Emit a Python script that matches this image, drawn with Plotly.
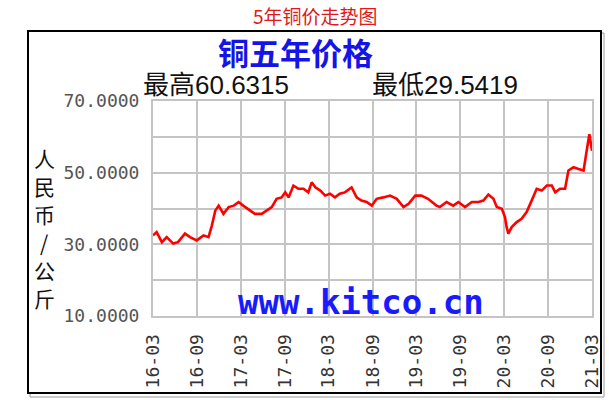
import plotly.graph_objects as go

# ---- data ----
dates = [
    "2016-03-01", "2016-03-16", "2016-04-07", "2016-04-27", "2016-05-24", "2016-06-13",
    "2016-07-12", "2016-08-02", "2016-08-30", "2016-09-27", "2016-10-18", "2016-11-01",
    "2016-11-15", "2016-11-29", "2016-12-19", "2017-01-10", "2017-01-31", "2017-02-20",
    "2017-03-11", "2017-04-01", "2017-04-29", "2017-05-27", "2017-06-17", "2017-07-08",
    "2017-07-28", "2017-08-18", "2017-09-02", "2017-09-16", "2017-10-06", "2017-10-27",
    "2017-11-17", "2017-12-07", "2017-12-21", "2018-01-05", "2018-01-26", "2018-02-15",
    "2018-03-07", "2018-03-28", "2018-04-17", "2018-05-08", "2018-06-05", "2018-06-26",
    "2018-07-16", "2018-08-07", "2018-08-28", "2018-09-17", "2018-10-15", "2018-11-12",
    "2018-12-10", "2019-01-07", "2019-01-28", "2019-02-25", "2019-03-22", "2019-04-19",
    "2019-05-24", "2019-06-07", "2019-07-05", "2019-08-02", "2019-08-23", "2019-09-20",
    "2019-10-18", "2019-11-15", "2019-12-05", "2019-12-26", "2020-01-16", "2020-01-30",
    "2020-02-20", "2020-03-04", "2020-03-11", "2020-03-18", "2020-04-01", "2020-04-22",
    "2020-05-12", "2020-06-02", "2020-06-23", "2020-07-14", "2020-08-04", "2020-08-25",
    "2020-09-15", "2020-09-29", "2020-10-19", "2020-11-09", "2020-11-23", "2020-12-14",
    "2021-01-04", "2021-01-25", "2021-02-08", "2021-02-18", "2021-03-01",
]
prices = [
    32.5, 33.4, 30.6, 32.0, 30.2, 30.6,
    33.0, 32.0, 31.1, 32.5, 32.0, 35.3,
    39.4, 40.8, 38.5, 40.4, 40.8, 41.8,
    40.8, 39.9, 38.5, 38.5, 39.4, 40.4,
    42.7, 43.1, 44.5, 43.1, 46.4, 45.5,
    45.5, 44.5, 47.3, 45.9, 45.0, 43.6,
    44.1, 43.1, 44.1, 44.5, 45.9, 43.1,
    42.2, 41.8, 40.8, 42.7, 43.1, 43.6,
    42.7, 40.4, 41.3, 43.6, 43.6, 42.7,
    40.8, 40.4, 41.8, 40.8, 41.8, 40.4,
    41.8, 41.8, 42.2, 43.9, 42.7, 40.4,
    39.9, 37.6, 34.8, 33.0, 34.8, 36.2,
    37.1, 39.0, 42.2, 45.5, 45.0, 46.4,
    46.4, 44.5, 45.5, 45.5, 50.6, 51.5,
    51.0, 50.6, 56.6, 60.7, 56.1,
]
x_tick_dates = ["2016-03-01", "2016-09-01", "2017-03-01", "2017-09-01", "2018-03-01",
                "2018-09-01", "2019-03-01", "2019-09-01", "2020-03-01", "2020-09-01",
                "2021-03-01"]
x_tick_labels = ["16-03", "16-09", "17-03", "17-09", "18-03", "18-09",
                 "19-03", "19-09", "20-03", "20-09", "21-03"]
y_tick_vals = [10, 20, 30, 40, 50, 60, 70]
y_tick_labels = ["10.0000", "", "30.0000", "", "50.0000", "", "70.0000"]

page_title = "5年铜价走势图"
chart_title = "铜五年价格"
high_text = "最高60.6315"
low_text = "最低29.5419"
y_title = "人民币/公斤"
watermark = "www.kitco.cn"

# ---- layout geometry (pixels) ----
W, H = 609, 400
L, R, T, B = 153, 592, 101, 316


def px(x):
    return (x - L) / (R - L)


def py(y):
    return (B - y) / (B - T)


fig = go.Figure()
fig.add_trace(go.Scatter(x=dates, y=prices, mode="lines",
                         line=dict(color="#ff0000", width=2.6), hoverinfo="x+y"))

grid = "#c4c4c4"
fig.update_layout(
    width=W, height=H,
    margin=dict(l=L, r=W - R, t=T, b=H - B, autoexpand=False),
    paper_bgcolor="white", plot_bgcolor="white",
    showlegend=False,
    xaxis=dict(type="date", range=["2016-03-01", "2021-03-01"],
               tickvals=x_tick_dates, ticktext=x_tick_labels, tickangle=-90,
               showgrid=True, gridcolor=grid, gridwidth=2,
               showline=True, linecolor=grid, linewidth=2, mirror=True,
               ticks="outside", ticklen=9, tickcolor="rgba(0,0,0,0)",
               tickfont=dict(family="DejaVu Sans Mono", size=18, color="#333333"),
               zeroline=False),
    yaxis=dict(range=[10, 70], tickvals=y_tick_vals, ticktext=y_tick_labels,
               showgrid=True, gridcolor=grid, gridwidth=2,
               showline=True, linecolor=grid, linewidth=2, mirror=True,
               ticks="outside", ticklen=8, tickcolor="rgba(0,0,0,0)",
               tickfont=dict(family="DejaVu Sans Mono", size=18, color="#555555"),
               zeroline=False),
)

# outer frame with light shadow
fig.add_shape(type="rect", xref="paper", yref="paper",
              x0=px(30), x1=px(604), y0=py(397), y1=py(33),
              line=dict(color="#9a9a9a", width=1), layer="below")
fig.add_shape(type="rect", xref="paper", yref="paper",
              x0=px(28), x1=px(601), y0=py(393), y1=py(31),
              line=dict(color="#000000", width=2), fillcolor="white", layer="below")

ann = []
ann.append(dict(text=page_title, x=px(315), y=py(15), xanchor="center", yanchor="middle",
                font=dict(family="Noto Sans CJK SC", size=19, color="#e01818")))
ann.append(dict(text="<b>" + chart_title + "</b>", x=px(295), y=py(51), xanchor="center",
                yanchor="middle",
                font=dict(family="Noto Sans CJK SC", size=31, color="#1414e6")))
ann.append(dict(text=high_text, x=px(142), y=py(85), xanchor="left", yanchor="middle",
                font=dict(family="Liberation Sans, Noto Sans CJK SC", size=26, color="#111111")))
ann.append(dict(text=low_text, x=px(371), y=py(85), xanchor="left", yanchor="middle",
                font=dict(family="Liberation Sans, Noto Sans CJK SC", size=26, color="#111111")))
# vertical axis title, one character per line
for i, ch in enumerate(y_title):
    ann.append(dict(text=ch, x=px(44), y=py(158 + 28 * i), xanchor="center",
                    yanchor="middle",
                    font=dict(family="Noto Sans CJK SC", size=21, color="#111111")))
ann.append(dict(text="<b>" + watermark + "</b>", x=px(361), y=py(302), xanchor="center",
                yanchor="middle",
                font=dict(family="DejaVu Sans Mono", size=34, color="#1a1aff")))
for a in ann:
    a.update(xref="paper", yref="paper", showarrow=False, borderpad=0)
fig.update_layout(annotations=ann)

fig.write_html("out.html", post_script="document.body.style.margin='0';",
               config={"displayModeBar": False})
